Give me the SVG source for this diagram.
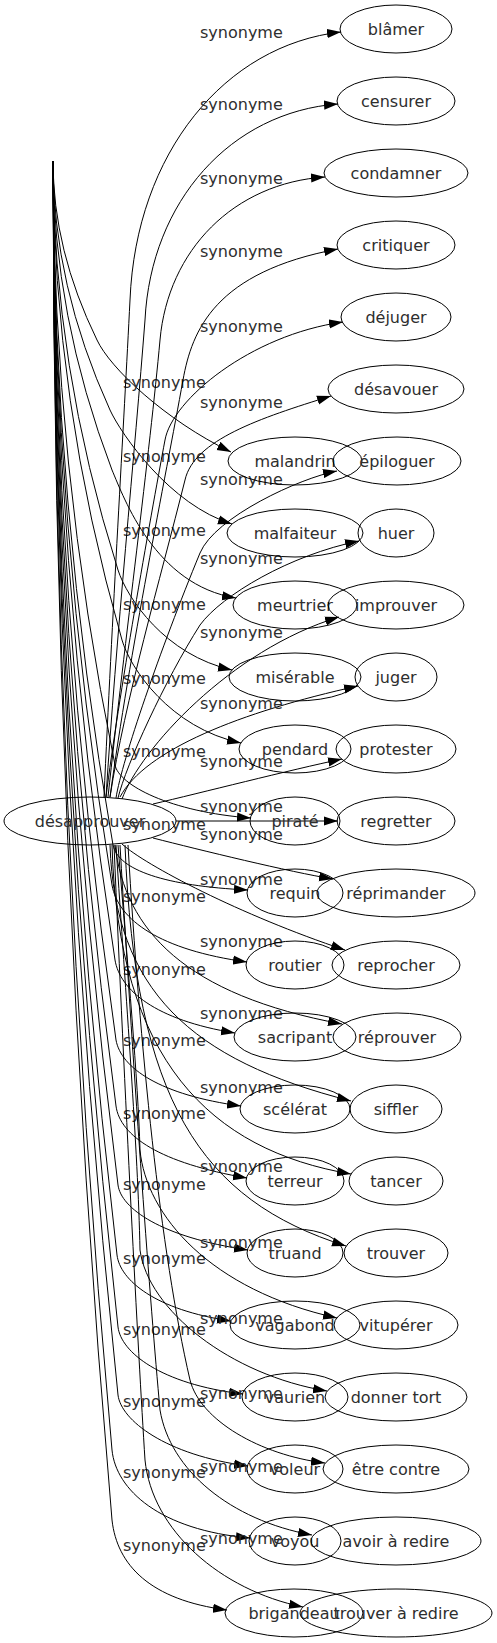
<svg xmlns="http://www.w3.org/2000/svg" width="497" height="1643" viewBox="0 0 497 1643">
<defs>
<marker id="ah" viewBox="0 0 14 10" refX="14" refY="5" markerWidth="14" markerHeight="10" markerUnits="userSpaceOnUse" orient="auto"><path d="M0,0.4 L14,5 L0,9.6 Z" fill="#000"/></marker>
<style>
text{font-family:"DejaVu Sans",Verdana,sans-serif;font-size:16px;fill:#2e2e2e}
.n ellipse{fill:none;stroke:#000;stroke-width:1}
.n text{text-anchor:middle}
#connectors path{fill:none;stroke:#000;stroke-width:1;marker-end:url(#ah)}
</style>
</defs>
<rect width="497" height="1643" fill="#fff"/>
<g id="connectors">
<g id="e-malandrin"><path d="M53,161 Q53,250 97,340 C110,368 165,420 231,452"/><text x="123" y="388">synonyme</text></g>
<g id="e-malfaiteur"><path d="M53,161 Q53,285 110,410 C121,434 170,505 232,524"/><text x="123" y="462">synonyme</text></g>
<g id="e-meurtrier"><path d="M53,161 Q53,315 112,470 C124,498 155,585 236,598"/><text x="123" y="536">synonyme</text></g>
<g id="e-miserable"><path d="M53,161 Q53,365 118,570 C127,598 165,655 232,670"/><text x="123" y="610">synonyme</text></g>
<g id="e-pendard"><path d="M53,161 Q53,400 122,640 C130,668 170,728 241,743"/><text x="123" y="684">synonyme</text></g>
<g id="e-pirate"><path d="M53,161 Q53,463 115,765 C119,785 170,812 251,818"/><text x="123" y="757">synonyme</text></g>
<g id="e-requin"><path d="M53,161 Q53,503 113,845 C118,870 165,886 248,890"/><text x="123" y="830">synonyme</text></g>
<g id="e-routier"><path d="M53,161 Q53,523 112,885 C118,920 160,950 247,962"/><text x="123" y="902">synonyme</text></g>
<g id="e-sacripant"><path d="M53,161 Q53,560 115,960 C120,990 155,1020 235,1033"/><text x="123" y="975">synonyme</text></g>
<g id="e-scelerat"><path d="M53,161 Q53,600 116,1040 C121,1068 160,1095 241,1106"/><text x="123" y="1046">synonyme</text></g>
<g id="e-terreur"><path d="M53,161 Q53,633 116,1106 C120,1136 160,1163 247,1178"/><text x="123" y="1119">synonyme</text></g>
<g id="e-truand"><path d="M53,161 Q53,673 118,1185 C121,1208 160,1237 248,1250"/><text x="123" y="1190">synonyme</text></g>
<g id="e-vagabond"><path d="M53,161 Q53,708 117,1255 C120,1280 155,1310 231,1321"/><text x="123" y="1264">synonyme</text></g>
<g id="e-vaurien"><path d="M53,161 Q53,744 118,1327 C121,1352 160,1384 243,1394"/><text x="123" y="1335">synonyme</text></g>
<g id="e-voleur"><path d="M53,161 Q53,778 118,1395 C121,1420 165,1455 248,1466"/><text x="123" y="1407">synonyme</text></g>
<g id="e-voyou"><path d="M53,161 Q53,805 112,1450 C116,1490 160,1530 250,1538"/><text x="123" y="1478">synonyme</text></g>
<g id="e-brigandeau"><path d="M53,161 Q53,840 112,1520 C117,1565 150,1600 227,1610"/><text x="123" y="1551">synonyme</text></g>

<g id="e-blamer"><path d="M104,797 C112,620 124,420 130,300 C136,153 225,45 341,32"/><text x="200" y="38">synonyme</text></g>
<g id="e-censurer"><path d="M106,797 C116,640 135,450 145,320 C151,201 231,112 338,104"/><text x="200" y="110">synonyme</text></g>
<g id="e-condamner"><path d="M108,797 C125,640 150,450 160,340 C168,250 234,183 325,177"/><text x="200" y="184">synonyme</text></g>
<g id="e-critiquer"><path d="M110,797 C130,650 165,480 183,380 C192,330 215,272 338,249"/><text x="200" y="257">synonyme</text></g>
<g id="e-dejuger"><path d="M106,797 C118,700 150,520 165,440 C172,400 250,335 343,322"/><text x="200" y="332">synonyme</text></g>
<g id="e-desavouer"><path d="M110,797 C125,700 160,580 185,480 C194,440 260,418 331,396"/><text x="200" y="408">synonyme</text></g>
<g id="e-epiloguer"><path d="M116,798 C122,760 160,650 200,553 C215,517 300,478 337,471"/><text x="200" y="485">synonyme</text></g>
<g id="e-huer"><path d="M118,798 C126,765 165,680 200,625 C222,595 290,555 359,541"/><text x="200" y="564">synonyme</text></g>
<g id="e-improuver"><path d="M122,799 C140,750 230,650 339,617"/><text x="200" y="638">synonyme</text></g>
<g id="e-juger"><path d="M120,797 C145,750 240,712 358,686"/><text x="200" y="709">synonyme</text></g>
<g id="e-protester"><path d="M153,804 C200,793 290,770 342,759"/><text x="200" y="767">synonyme</text></g>
<g id="e-regretter"><path d="M176,821 L338,821"/><text x="200" y="812">synonyme</text></g>
<g id="e-reprimander"><path d="M153,838 C200,850 290,872 333,879"/><text x="200" y="840">synonyme</text></g>
<g id="e-reprocher"><path d="M122,844 C145,865 240,915 345,950"/><text x="200" y="885">synonyme</text></g>
<g id="e-reprouver"><path d="M115,845 C125,930 185,995 342,1024"/><text x="200" y="947">synonyme</text></g>
<g id="e-siffler"><path d="M110,845 C115,990 190,1060 351,1101"/><text x="200" y="1019">synonyme</text></g>
<g id="e-tancer"><path d="M112,845 C118,1060 210,1150 351,1174"/><text x="200" y="1093">synonyme</text></g>
<g id="e-trouver"><path d="M125,845 C135,1100 200,1200 346,1246"/><text x="200" y="1172">synonyme</text></g>
<g id="e-vituperer"><path d="M118,845 C128,970 138,1080 140,1150 C146,1215 210,1290 337,1318"/><text x="200" y="1248">synonyme</text></g>
<g id="e-donnertort"><path d="M116,845 C126,1000 138,1150 140,1250 C148,1310 230,1375 327,1391"/><text x="200" y="1324">synonyme</text></g>
<g id="e-etrecontre"><path d="M128,845 C140,1050 160,1250 190,1380 C200,1420 260,1455 325,1463"/><text x="200" y="1399">synonyme</text></g>
<g id="e-avoiraredire"><path d="M120,845 C135,1100 150,1300 160,1410 C170,1470 230,1520 312,1535"/><text x="200" y="1472">synonyme</text></g>
<g id="e-trouveraredire"><path d="M114,845 C125,1100 138,1350 145,1460 C152,1530 220,1590 303,1607"/><text x="200" y="1544">synonyme</text></g>
</g>

<g id="n-desapprouver" class="n"><ellipse cx="90" cy="821" rx="86" ry="24"/><text x="90" y="827">désapprouver</text></g>

<g id="n-malandrin" class="n"><ellipse cx="295" cy="461" rx="67" ry="24"/><text x="295" y="467">malandrin</text></g>
<g id="n-malfaiteur" class="n"><ellipse cx="295" cy="533" rx="68" ry="24"/><text x="295" y="539">malfaiteur</text></g>
<g id="n-meurtrier" class="n"><ellipse cx="295" cy="605" rx="62" ry="24"/><text x="295" y="611">meurtrier</text></g>
<g id="n-miserable" class="n"><ellipse cx="295" cy="677" rx="66" ry="24"/><text x="295" y="683">misérable</text></g>
<g id="n-pendard" class="n"><ellipse cx="295" cy="749" rx="56" ry="24"/><text x="295" y="755">pendard</text></g>
<g id="n-pirate" class="n"><ellipse cx="295" cy="821" rx="45" ry="24"/><text x="295" y="827">piraté</text></g>
<g id="n-requin" class="n"><ellipse cx="295" cy="893" rx="48" ry="24"/><text x="295" y="899">requin</text></g>
<g id="n-routier" class="n"><ellipse cx="295" cy="965" rx="49" ry="24"/><text x="295" y="971">routier</text></g>
<g id="n-sacripant" class="n"><ellipse cx="295" cy="1037" rx="61" ry="24"/><text x="295" y="1043">sacripant</text></g>
<g id="n-scelerat" class="n"><ellipse cx="295" cy="1109" rx="55" ry="24"/><text x="295" y="1115">scélérat</text></g>
<g id="n-terreur" class="n"><ellipse cx="295" cy="1181" rx="49" ry="24"/><text x="295" y="1187">terreur</text></g>
<g id="n-truand" class="n"><ellipse cx="295" cy="1253" rx="48" ry="24"/><text x="295" y="1259">truand</text></g>
<g id="n-vagabond" class="n"><ellipse cx="295" cy="1325" rx="65" ry="24"/><text x="295" y="1331">vagabond</text></g>
<g id="n-vaurien" class="n"><ellipse cx="295" cy="1397" rx="53" ry="24"/><text x="295" y="1403">vaurien</text></g>
<g id="n-voleur" class="n"><ellipse cx="295" cy="1469" rx="48" ry="24"/><text x="295" y="1475">voleur</text></g>
<g id="n-voyou" class="n"><ellipse cx="295" cy="1541" rx="46" ry="24"/><text x="295" y="1547">voyou</text></g>
<g id="n-brigandeau" class="n"><ellipse cx="294" cy="1613" rx="69" ry="24"/><text x="294" y="1619">brigandeau</text></g>

<g id="n-blamer" class="n"><ellipse cx="396" cy="29" rx="56" ry="24"/><text x="396" y="35">blâmer</text></g>
<g id="n-censurer" class="n"><ellipse cx="396" cy="101" rx="59" ry="24"/><text x="396" y="107">censurer</text></g>
<g id="n-condamner" class="n"><ellipse cx="396" cy="173" rx="72" ry="24"/><text x="396" y="179">condamner</text></g>
<g id="n-critiquer" class="n"><ellipse cx="396" cy="245" rx="59" ry="24"/><text x="396" y="251">critiquer</text></g>
<g id="n-dejuger" class="n"><ellipse cx="396" cy="317" rx="55" ry="24"/><text x="396" y="323">déjuger</text></g>
<g id="n-desavouer" class="n"><ellipse cx="396" cy="389" rx="68" ry="24"/><text x="396" y="395">désavouer</text></g>
<g id="n-epiloguer" class="n"><ellipse cx="397" cy="461" rx="64" ry="24"/><text x="397" y="467">épiloguer</text></g>
<g id="n-huer" class="n"><ellipse cx="396" cy="533" rx="38" ry="24"/><text x="396" y="539">huer</text></g>
<g id="n-improuver" class="n"><ellipse cx="396" cy="605" rx="68" ry="24"/><text x="396" y="611">improuver</text></g>
<g id="n-juger" class="n"><ellipse cx="396" cy="677" rx="41" ry="24"/><text x="396" y="683">juger</text></g>
<g id="n-protester" class="n"><ellipse cx="396" cy="749" rx="60" ry="24"/><text x="396" y="755">protester</text></g>
<g id="n-regretter" class="n"><ellipse cx="396" cy="821" rx="59" ry="24"/><text x="396" y="827">regretter</text></g>
<g id="n-reprimander" class="n"><ellipse cx="396" cy="893" rx="79" ry="24"/><text x="396" y="899">réprimander</text></g>
<g id="n-reprocher" class="n"><ellipse cx="396" cy="965" rx="64" ry="24"/><text x="396" y="971">reprocher</text></g>
<g id="n-reprouver" class="n"><ellipse cx="397" cy="1037" rx="64" ry="24"/><text x="397" y="1043">réprouver</text></g>
<g id="n-siffler" class="n"><ellipse cx="396" cy="1109" rx="46" ry="24"/><text x="396" y="1115">siffler</text></g>
<g id="n-tancer" class="n"><ellipse cx="396" cy="1181" rx="47" ry="24"/><text x="396" y="1187">tancer</text></g>
<g id="n-trouver" class="n"><ellipse cx="396" cy="1253" rx="52" ry="24"/><text x="396" y="1259">trouver</text></g>
<g id="n-vituperer" class="n"><ellipse cx="396" cy="1325" rx="62" ry="24"/><text x="396" y="1331">vitupérer</text></g>
<g id="n-donnertort" class="n"><ellipse cx="396" cy="1397" rx="71" ry="24"/><text x="396" y="1403">donner tort</text></g>
<g id="n-etrecontre" class="n"><ellipse cx="396" cy="1469" rx="73" ry="24"/><text x="396" y="1475">être contre</text></g>
<g id="n-avoiraredire" class="n"><ellipse cx="396" cy="1541" rx="85" ry="24"/><text x="396" y="1547">avoir à redire</text></g>
<g id="n-trouveraredire" class="n"><ellipse cx="396" cy="1613" rx="96" ry="24"/><text x="396" y="1619">trouver à redire</text></g>
</svg>
